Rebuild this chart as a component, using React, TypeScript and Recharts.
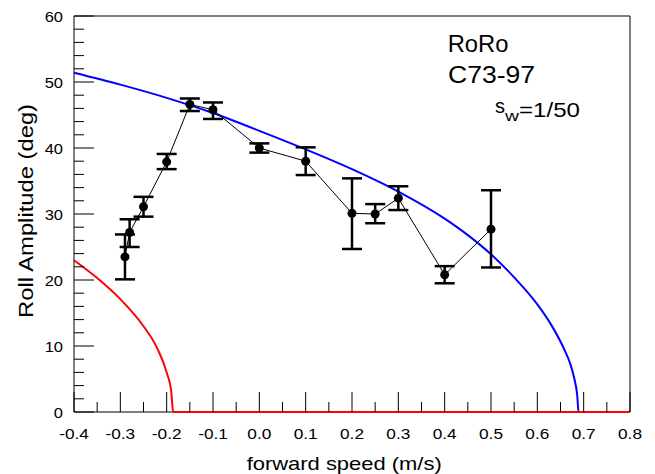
import React from "react";
import { ComposedChart, ErrorBar, Line, ReferenceArea, XAxis, YAxis } from "recharts";

// measured roll amplitude with error bar ends
const speed = [-0.29, -0.28, -0.25, -0.2, -0.15, -0.1, 0.0, 0.1, 0.2, 0.25, 0.3, 0.4, 0.5];
const roll = [23.5, 27.2, 31.1, 37.9, 46.6, 45.8, 40.0, 38.0, 30.1, 30.0, 32.4, 20.8, 27.7];
const rollLow = [20.1, 25.0, 29.6, 36.8, 45.6, 44.4, 39.3, 35.9, 24.7, 28.6, 30.6, 19.5, 21.9];
const rollHigh = [26.9, 29.2, 32.6, 39.1, 47.5, 46.9, 40.7, 40.1, 35.4, 31.5, 34.2, 22.1, 33.6];

// blue curve
const upperX = [-0.4, -0.3, -0.2, -0.1, 0.0, 0.1, 0.2, 0.3, 0.4, 0.45, 0.5, 0.55, 0.6, 0.63, 0.66, 0.67, 0.68, 0.686, 0.689, 0.8];
const upperY = [51.4, 49.6, 47.6, 45.3, 42.6, 39.8, 36.8, 33.4, 29.3, 26.8, 23.9, 20.4, 16.3, 13.2, 9.2, 7.5, 5.0, 2.6, 0, 0];

// red curve
const lowerX = [-0.4, -0.35, -0.3, -0.25, -0.22, -0.2, -0.19, -0.186, 0.8];
const lowerY = [23.0, 20.3, 17.1, 13.0, 9.6, 6.0, 3.0, 0, 0];

const xTicks = [
  -0.4, -0.35, -0.3, -0.25, -0.2, -0.15, -0.1, -0.05, 0, 0.05, 0.1, 0.15, 0.2,
  0.25, 0.3, 0.35, 0.4, 0.45, 0.5, 0.55, 0.6, 0.65, 0.7, 0.75, 0.8,
];
const yTicks = [
  0, 2, 4, 6, 8, 10, 12, 14, 16, 18, 20, 22, 24, 26, 28, 30, 32, 34, 36, 38, 40,
  42, 44, 46, 48, 50, 52, 54, 56, 58, 60,
];

const font = "'Liberation Sans', Arial, sans-serif";

const measured = speed.map((x, i) => ({
  x,
  y: roll[i],
  err: [roll[i] - rollLow[i], rollHigh[i] - roll[i]],
}));
const upper = upperX.map((x, i) => ({ x, y: upperY[i] }));
const lower = lowerX.map((x, i) => ({ x, y: lowerY[i] }));

function XTick(props: any) {
  const { x, y, payload } = props;
  const v = payload.value as number;
  const major = Math.abs(v * 10 - Math.round(v * 10)) < 1e-6;
  return (
    <g>
      <line x1={x} x2={x} y1={y} y2={y - (major ? 20 : 10)} stroke="#000" />
      {major && (
        <text
          transform={`translate(${x},${y + 27}) scale(1.15,1)`}
          textAnchor="middle"
          fontSize={15}
          fontFamily={font}
          fill="#000"
        >
          {v.toFixed(1)}
        </text>
      )}
    </g>
  );
}

function YTick(props: any) {
  const { x, y, payload } = props;
  const v = payload.value as number;
  const major = v % 10 === 0;
  return (
    <g>
      <line x1={x} x2={x + (major ? 20 : 10)} y1={y} y2={y} stroke="#000" />
      {major && (
        <text
          transform={`translate(${x - 11},${y + 5.5}) scale(1.1,1)`}
          textAnchor="end"
          fontSize={15}
          fontFamily={font}
          fill="#000"
        >
          {v}
        </text>
      )}
    </g>
  );
}

export default function App() {
  return (
    <div style={{ position: "absolute", left: 0, top: 0, width: 655, height: 474, background: "#fff" }}>
      <ComposedChart width={655} height={474} margin={{ top: 16, right: 25, bottom: 0, left: 14 }}>
        <XAxis
          dataKey="x"
          type="number"
          domain={[-0.4, 0.8]}
          ticks={xTicks}
          interval={0}
          tick={<XTick />}
          tickLine={false}
          tickSize={0}
          tickMargin={0}
          height={62}
          axisLine={false}
        />
        <YAxis
          type="number"
          domain={[0, 60]}
          ticks={yTicks}
          interval={0}
          tick={<YTick />}
          tickLine={false}
          tickSize={0}
          tickMargin={0}
          width={60}
          axisLine={false}
        />
        <ReferenceArea x1={-0.4} x2={0.8} y1={0} y2={60} fill="none" stroke="#000" strokeWidth={1} fillOpacity={0} />
        <Line
          data={upper}
          dataKey="y"
          type="monotone"
          stroke="#0000ff"
          strokeWidth={2}
          dot={false}
          isAnimationActive={false}
        />
        <Line
          data={lower}
          dataKey="y"
          type="monotone"
          stroke="#ff0000"
          strokeWidth={2}
          dot={false}
          isAnimationActive={false}
        />
        <Line
          data={measured}
          dataKey="y"
          type="linear"
          stroke="#000"
          strokeWidth={1}
          dot={{ r: 4.5, fill: "#000", stroke: "#000", strokeWidth: 0 }}
          isAnimationActive={false}
        >
          <ErrorBar dataKey="err" direction="y" width={10} strokeWidth={2.5} stroke="#000" />
        </Line>
      </ComposedChart>
      <svg
        width={655}
        height={474}
        style={{ position: "absolute", left: 0, top: 0, pointerEvents: "none" }}
        fontFamily={font}
        fill="#000"
      >
        <text x={447.7} y={51.7} fontSize={23} textLength={60.7} lengthAdjust="spacingAndGlyphs">
          RoRo
        </text>
        <text x={448} y={83.3} fontSize={23} textLength={87} lengthAdjust="spacingAndGlyphs">
          C73-97
        </text>
        <text x={495} y={113} fontSize={20}>
          s
        </text>
        <text x={505} y={121} fontSize={15} textLength={14} lengthAdjust="spacingAndGlyphs">
          w
        </text>
        <text x={519} y={116.5} fontSize={21} textLength={61} lengthAdjust="spacingAndGlyphs">
          =1/50
        </text>
        <text x={246.7} y={469.5} fontSize={18.5} textLength={195} lengthAdjust="spacingAndGlyphs">
          forward speed (m/s)
        </text>
        <text
          transform="translate(33,211) rotate(-90)"
          textAnchor="middle"
          fontSize={20.5}
          textLength={214}
          lengthAdjust="spacingAndGlyphs"
        >
          Roll Amplitude (deg)
        </text>
      </svg>
    </div>
  );
}
